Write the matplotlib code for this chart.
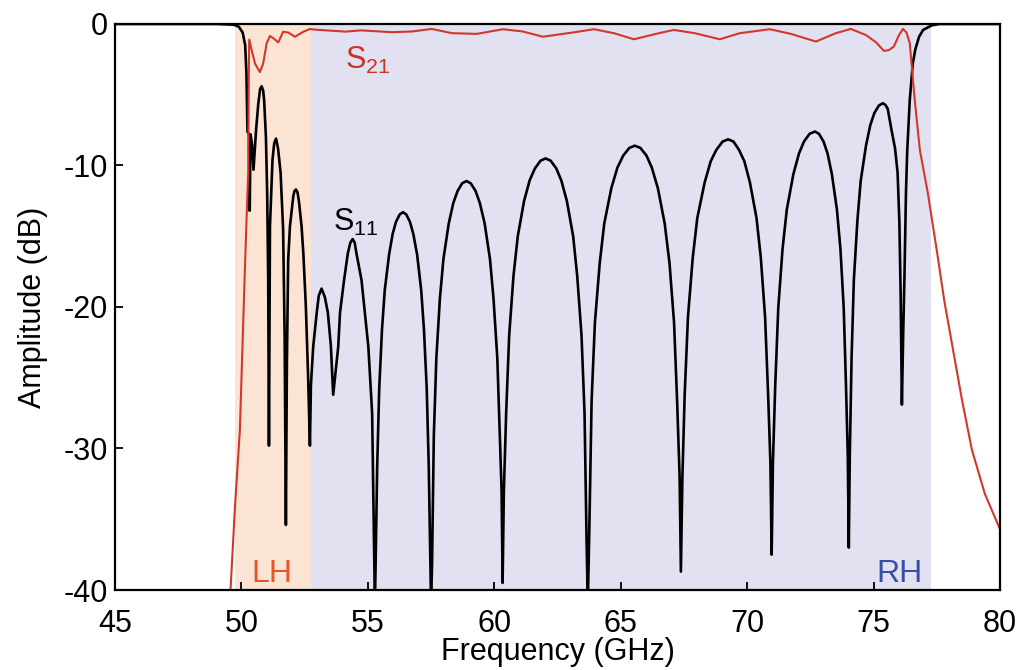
import matplotlib
matplotlib.use("Agg")
import matplotlib.pyplot as plt

plt.rcParams['font.family'] = ['Liberation Sans', 'DejaVu Sans']
plt.rcParams['mathtext.fontset'] = 'custom'
plt.rcParams['mathtext.rm'] = 'Liberation Sans'
plt.rcParams['mathtext.it'] = 'Liberation Sans'
plt.rcParams['axes.unicode_minus'] = False

# Reflection |S11| (dB) versus frequency (GHz)
s11_freq = [45.00, 49.00, 49.70, 49.90, 50.05, 50.15, 50.20, 50.24, 50.30, 50.33,
            50.36, 50.42, 50.48, 50.58, 50.67, 50.74, 50.80, 50.86, 50.90, 50.97,
            51.02, 51.06, 51.09, 51.13, 51.23, 51.30, 51.37, 51.45, 51.55, 51.65,
            51.71, 51.76, 51.80, 51.85, 51.92, 52.05, 52.10, 52.16, 52.22, 52.28,
            52.38, 52.45, 52.55, 52.64, 52.71, 52.75, 52.84, 52.98, 53.06, 53.17,
            53.30, 53.42, 53.54, 53.63, 53.83, 53.90, 54.06, 54.21, 54.31, 54.40,
            54.48, 54.55, 54.75, 54.88, 55.02, 55.17,
            55.28, 55.31, 55.37, 55.45, 55.56, 55.67, 55.84, 55.98, 56.11, 56.26,
            56.39, 56.52, 56.67, 56.80, 56.95, 57.11, 57.22, 57.33, 57.41, 57.47,
            57.50, 57.54, 57.61, 57.71, 57.85, 57.99, 58.20, 58.38, 58.55, 58.73,
            58.90, 59.07, 59.26, 59.43, 59.62, 59.83, 59.97, 60.12, 60.22, 60.29,
            60.33, 60.38, 60.47, 60.59, 60.76, 60.93, 61.18, 61.40, 61.61, 61.83,
            62.03, 62.23, 62.45, 62.65, 62.87, 63.12, 63.28, 63.45, 63.57, 63.65,
            63.70, 63.76, 63.85, 63.98, 64.17, 64.35, 64.63, 64.87, 65.10, 65.34,
            65.56, 65.78, 66.02, 66.23, 66.47, 66.74, 66.93, 67.11, 67.23, 67.33,
            67.38, 67.44, 67.53, 67.66, 67.85, 68.03, 68.32, 68.56, 68.78, 69.03,
            69.25, 69.46, 69.68, 69.89, 70.11, 70.37, 70.54, 70.71, 70.83, 70.92,
            70.97, 71.02, 71.11, 71.23, 71.40, 71.57, 71.83, 72.05, 72.25, 72.47,
            72.68, 72.84, 73.02, 73.18, 73.35, 73.55, 73.69, 73.82, 73.91, 73.98,
            74.02, 74.06, 74.13, 74.22, 74.36, 74.49, 74.70, 74.87, 75.03, 75.21,
            75.37, 75.47, 75.56, 75.71, 75.85, 75.95, 76.02, 76.07,
            76.12, 76.17, 76.22, 76.28, 76.33, 76.43, 76.55, 76.65, 76.80,
            76.96, 77.30, 77.60, 80.00]
s11_db = [0.0, 0.0, -0.05, -0.2, -0.6, -1.5, -3.5, -7.6, -7.8, -13.2,
          -7.8, -8.5, -10.3, -7.5, -5.6, -4.6, -4.4, -4.7, -5.4, -8.0,
          -12.0, -18.0, -29.8, -14.3, -9.6, -8.4, -8.1, -8.8, -10.5, -14.5,
          -22.0, -35.4, -24.0, -16.7, -14.3, -12.2, -11.8, -11.7, -11.9, -12.6,
          -14.3, -16.2, -20.0, -25.0, -29.8, -25.5, -22.8, -20.4, -19.2, -18.7,
          -19.3, -20.4, -22.8, -26.2, -22.8, -20.4, -18.1, -16.2, -15.45, -15.2,
          -15.45, -16.2, -18.1, -20.4, -22.8, -27.5,
          -41.0, -38.0, -31.3, -25.8, -21.6, -18.8, -16.3, -14.85, -14.0, -13.46,
          -13.3, -13.46, -14.0, -14.85, -16.3, -18.8, -21.6, -25.8, -31.3, -38.0,
          -41.0, -38.1, -29.1, -23.6, -19.4, -16.6, -14.1, -12.65, -11.8, -11.26,
          -11.1, -11.26, -11.8, -12.65, -14.1, -16.6, -19.4, -23.6, -29.1, -33.0,
          -39.5, -33.0, -27.5, -22.0, -17.8, -15.0, -12.5, -11.05, -10.2, -9.66,
          -9.5, -9.66, -10.2, -11.05, -12.5, -15.0, -17.8, -22.0, -27.5, -36.5,
          -41.0, -35.6, -26.6, -21.1, -16.9, -14.1, -11.6, -10.15, -9.3, -8.76,
          -8.6, -8.76, -9.3, -10.15, -11.6, -14.1, -16.9, -21.1, -26.6, -32.0,
          -38.7, -32.0, -26.2, -20.7, -16.5, -13.7, -11.2, -9.7, -8.9, -8.31,
          -8.15, -8.31, -8.9, -9.7, -11.2, -13.7, -16.5, -20.7, -26.2, -31.0,
          -37.5, -31.0, -25.6, -20.1, -15.9, -13.1, -10.6, -9.15, -8.3, -7.76,
          -7.6, -7.76, -8.3, -9.15, -10.6, -13.1, -15.9, -20.1, -25.6, -30.5,
          -37.0, -30.5, -23.6, -18.1, -13.9, -11.1, -8.6, -7.15, -6.3, -5.76,
          -5.6, -5.72, -6.0, -7.5, -8.8, -10.5, -14.0, -19.0,
          -26.9, -22.0, -18.0, -12.0, -9.0, -5.4, -2.8, -1.8, -0.9,
          -0.42, -0.1, 0.0, 0.0]

# Transmission |S21| (dB) versus frequency (GHz)
s21_freq = [49.40, 49.57, 49.75, 49.94, 50.10, 50.20, 50.27, 50.29, 50.31, 50.40,
            50.54, 50.73, 50.86, 51.00, 51.13, 51.26, 51.46, 51.65, 51.85, 52.12,
            52.45, 52.71, 52.91, 54.13, 54.73, 55.95, 56.74, 57.53, 58.33, 59.31,
            60.34, 61.13, 61.92, 63.11, 63.94, 64.73, 65.52, 66.51, 67.10, 67.93,
            68.92, 69.71, 70.90, 71.73, 72.72, 73.51, 74.10, 74.70, 75.10, 75.41,
            75.60, 75.80, 76.00, 76.16, 76.30, 76.43, 76.63, 76.83, 77.15, 77.50,
            77.80, 78.14, 78.50, 78.89, 79.40, 79.95, 80.00]
s21_db = [-46.0, -40.0, -34.0, -28.7, -19.5, -14.0, -10.5, -4.0, -1.1, -1.8,
          -2.8, -3.4, -2.8, -1.36, -0.85, -1.0, -1.3, -0.55, -0.6, -0.9,
          -0.55, -0.35, -0.4, -0.54, -0.45, -0.58, -0.53, -0.35, -0.65, -0.70,
          -0.37, -0.53, -0.90, -0.60, -0.37, -0.65, -1.08, -0.65, -0.42, -0.65,
          -1.08, -0.65, -0.37, -0.70, -1.24, -0.65, -0.35, -0.78, -1.3, -1.9,
          -1.85, -1.6, -0.8, -0.35, -0.6, -1.35, -5.4, -8.9, -12.0, -16.0,
          -19.6, -23.0, -26.6, -30.1, -33.2, -35.5, -35.7]

# Left-handed and right-handed passbands (GHz)
lh_band = (49.76, 52.74)
rh_band = (52.74, 77.28)

x_ticks = [45, 50, 55, 60, 65, 70, 75, 80]
y_ticks = [0, -10, -20, -30, -40]

fig = plt.figure(figsize=(10.2, 6.7), dpi=100)
ax = fig.add_axes([0.1127, 0.1194, 0.8677, 0.8448])

ax.axvspan(*lh_band, color='#fce4d4', lw=0, zorder=0)
ax.axvspan(*rh_band, color='#e1e1f1', lw=0, zorder=0)

ax.plot(s11_freq, s11_db, color='black', lw=1.9, zorder=3, solid_joinstyle='round')
ax.plot(s21_freq, s21_db, color='#d2372a', lw=1.5, zorder=4, solid_joinstyle='round')

ax.set_xlim(45, 80)
ax.set_ylim(-40, 0)
ax.set_xticks(x_ticks)
ax.set_yticks(y_ticks)
ax.set_xticklabels([str(v) for v in x_ticks])
ax.set_yticklabels([str(v) for v in y_ticks])

ax.tick_params(axis='both', direction='in', length=6, width=1.3,
               labelsize=22, top=False, right=False)
ax.tick_params(axis='x', pad=14)
ax.tick_params(axis='y', pad=5)
for sp in ax.spines.values():
    sp.set_linewidth(1.6)
    sp.set_zorder(5)

ax.set_xlabel('Frequency (GHz)', fontsize=22, labelpad=-2)
ax.set_ylabel('Amplitude (dB)', fontsize=22, labelpad=11)

ax.text(54.1, -3.2, r'S$_{21}$', color='#c9342a', fontsize=22, ha='left', va='baseline')
ax.text(53.62, -14.6, r'S$_{11}$', color='black', fontsize=22, ha='left', va='baseline')
ax.text(50.4, -39.4, 'LH', color='#e8532c', fontsize=23, ha='left', va='baseline')
ax.text(75.13, -39.4, 'RH', color='#3a4fa3', fontsize=23, ha='left', va='baseline')

fig.savefig('out.png', dpi=100)
